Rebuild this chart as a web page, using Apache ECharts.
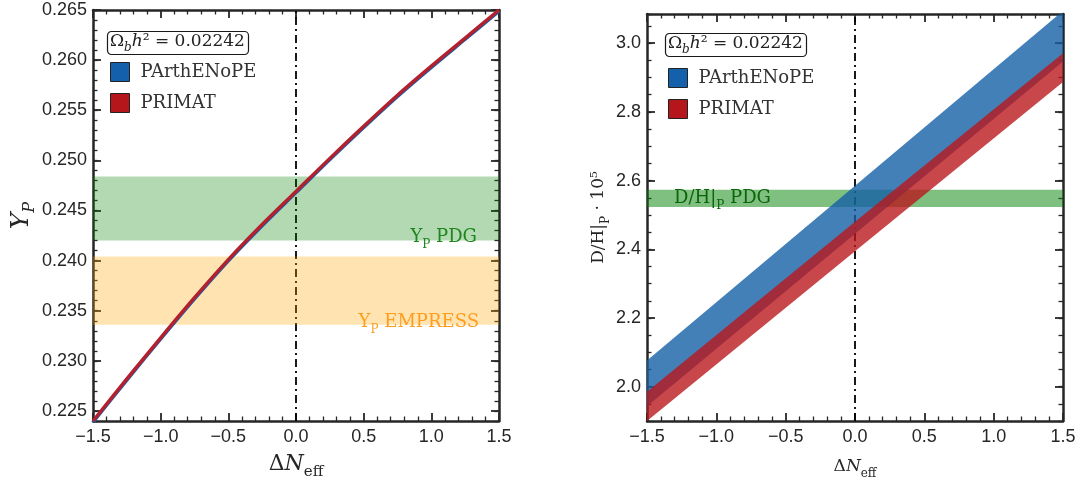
<!DOCTYPE html>
<html><head><meta charset="utf-8">
<script src="https://cdn.jsdelivr.net/npm/echarts@6/dist/echarts.min.js"></script>
<style>html,body{margin:0;padding:0;background:#fff}#c{width:1083px;height:485px}</style>
</head><body><div id="c"></div>
<script>
// ---- data ----
const xTicks = [-1.5, -1.0, -0.5, 0, 0.5, 1.0, 1.5];
const ypTicks = [0.225, 0.230, 0.235, 0.240, 0.245, 0.250, 0.255, 0.260, 0.265];
const dhTicks = [2.0, 2.2, 2.4, 2.6, 2.8, 3.0];
const dNeff = [-1.5, -1.25, -1.0, -0.75, -0.5, -0.25, 0, 0.25, 0.5, 0.75, 1.0, 1.25, 1.5];
const ypPRIMAT = [0.2240, 0.2282, 0.2323, 0.2363, 0.2401, 0.2436, 0.2469, 0.2502, 0.2534, 0.2565, 0.2594, 0.2622, 0.2650];
const ypPArthENoPE = [0.22388, 0.22808, 0.23218, 0.23618, 0.23998, 0.24348, 0.24678, 0.25008, 0.25328, 0.25638, 0.25928, 0.26208, 0.26488];
const ypPDG = [0.2420, 0.2484];
const ypEMPRESS = [0.2336, 0.2404];
const dhX = [-1.5, 0, 1.5];
const dhParthLow = [1.943, 2.445, 2.947];
const dhParthHigh = [2.076, 2.585, 3.094];
const dhPrimatLow = [1.900, 2.394, 2.887];
const dhPrimatHigh = [1.985, 2.480, 2.971];
const dhPDG = [2.523, 2.573];

// ---- styles ----
const AX = '#262626';
const SERIF = 'DejaVu Serif';
const SANS = 'Liberation Sans';
const BLUE = '#1560aa', RED = '#b5161b';

function pairs(xs, ys) { return xs.map((x, i) => [x, ys[i]]); }
const fmtX = v => (v < 0 ? '\u2212' : '') + Math.abs(v).toFixed(1);

function xAxesFor(g, nameSize, nameGap) {
  const base = {
    type: 'value', gridIndex: g, min: -1.5, max: 1.5, interval: 0.5,
    axisLine: { show: true, onZero: false, lineStyle: { color: AX, width: 2.5 } },
    axisTick: { show: true, inside: true, length: 8, lineStyle: { color: AX, width: 1.8 } },
    minorTick: { show: true, splitNumber: 5, length: 4.5, lineStyle: { color: AX, width: 1.3 } },
    splitLine: { show: false }, minorSplitLine: { show: false }
  };
  return [
    Object.assign({}, base, {
      position: 'bottom',
      axisLabel: { formatter: fmtX, fontFamily: SANS, fontSize: 18, color: AX, margin: 7 },
      name: '{d|\u0394}{i|N}{s|eff}', nameLocation: 'middle', nameGap: nameGap,
      nameTextStyle: { rich: {
        d: { fontFamily: SERIF, fontSize: nameSize, color: AX, lineHeight: nameSize + 2 },
        i: { fontFamily: SERIF, fontStyle: 'italic', fontSize: nameSize, color: AX, lineHeight: nameSize + 2 },
        s: { fontFamily: SERIF, fontSize: Math.round(nameSize * 0.68), color: AX, verticalAlign: 'bottom', lineHeight: nameSize + 9 }
      } }
    }),
    Object.assign({}, base, { position: 'top', axisLabel: { show: false } })
  ];
}

function yAxesFor(g, min, max, ticks, minorInt, dec, name, nameGap, rich) {
  const line = { show: true, onZero: false, lineStyle: { color: AX, width: 2.5 } };
  const major = (pos, withLabel) => ({
    type: 'value', gridIndex: g, min: min, max: max, position: pos,
    axisLine: line,
    axisTick: { show: true, inside: true, length: 8, customValues: ticks, lineStyle: { color: AX, width: 1.8 } },
    axisLabel: withLabel ? { show: true, customValues: ticks, formatter: v => v.toFixed(dec), fontFamily: SANS, fontSize: 18, color: AX, margin: 6 } : { show: false },
    splitLine: { show: false },
    name: withLabel ? name : '', nameLocation: 'middle', nameGap: nameGap, nameRotate: 90,
    nameTextStyle: { rich: rich }
  });
  const minor = pos => ({
    type: 'value', gridIndex: g, min: min, max: max, interval: minorInt, position: pos,
    axisLine: { show: false, onZero: false },
    axisTick: { show: true, inside: true, length: 4.5, lineStyle: { color: AX, width: 1.3 } },
    axisLabel: { show: false }, splitLine: { show: false }
  });
  return [major('left', true), minor('left'), major('right', false), minor('right')];
}

const ypRich = {
  i: { fontFamily: SERIF, fontStyle: 'italic', fontSize: 25, color: AX, lineHeight: 26 },
  s: { fontFamily: SERIF, fontStyle: 'italic', fontSize: 16, color: AX, verticalAlign: 'bottom', lineHeight: 34 }
};
const dhRich = {
  n: { fontFamily: SERIF, fontSize: 17, color: AX, lineHeight: 19 },
  s: { fontFamily: SERIF, fontSize: 12, color: AX, verticalAlign: 'bottom', lineHeight: 26 }
};

const dashLine = (xi, yi) => ({
  type: 'line', name: 'ref', xAxisIndex: xi, yAxisIndex: yi, data: [], silent: true, z: 1,
  markLine: { silent: true, z: 1, symbol: ['none', 'none'], animation: false,
    label: { show: false },
    lineStyle: { color: '#000', width: 1.8, type: [8, 4, 2, 4] },
    data: [{ xAxis: 0 }] }
});

const bandLabelRich = (color, size) => ({
  n: { fontFamily: SERIF, fontSize: size, color: color, lineHeight: size + 2 },
  s: { fontFamily: SERIF, fontSize: Math.round(size * 0.68), color: color, verticalAlign: 'bottom', lineHeight: size + 9 }
});

const boxTitle = (left, top) => ({
  text: '{o|\u03A9}{b|b}{h|h}{o|\u00B2 = 0.02242}',
  left: left, top: top, padding: [2, 4, 1, 3],
  borderColor: '#1a1a1a', borderWidth: 1.2, borderRadius: 4, backgroundColor: '#fff',
  textStyle: { fontWeight: 'normal', rich: {
    o: { fontFamily: SERIF, fontWeight: 'normal', fontSize: 17, color: '#222', lineHeight: 20 },
    h: { fontFamily: SERIF, fontWeight: 'normal', fontStyle: 'italic', fontSize: 17, color: '#222', lineHeight: 20 },
    b: { fontFamily: SERIF, fontWeight: 'normal', fontStyle: 'italic', fontSize: 12, color: '#222', verticalAlign: 'bottom', lineHeight: 25 }
  } }
});

const legendFor = (left, top) => ({
  left: left, top: top, orient: 'vertical', itemWidth: 19, itemHeight: 19, itemGap: 11,
  padding: 0, icon: 'rect', selectedMode: false,
  textStyle: { fontFamily: SERIF, fontSize: 18, color: '#333', padding: [0, 0, 0, 6] },
  data: [
    { name: 'PArthENoPE', icon: 'rect', itemStyle: { color: BLUE, borderColor: '#222', borderWidth: 1 } },
    { name: 'PRIMAT', icon: 'rect', itemStyle: { color: RED, borderColor: '#222', borderWidth: 1 } }
  ]
});

function bandSeries(name, low, high, color, z) {
  return {
    type: 'custom', name: name, xAxisIndex: 2, yAxisIndex: 4, z: z, clip: true, silent: true,
    data: dhX.map((x, i) => [x, low[i], high[i]]),
    encode: { x: 0, y: [1, 2] },
    itemStyle: { color: color },
    renderItem: (params, api) => {
      if (params.dataIndex !== 0) return null;
      const pts = [];
      for (let i = 0; i < dhX.length; i++) pts.push(api.coord([dhX[i], high[i]]));
      for (let i = dhX.length - 1; i >= 0; i--) pts.push(api.coord([dhX[i], low[i]]));
      return { type: 'polygon', shape: { points: pts }, style: { fill: color } };
    }
  };
}

const option = {
  animation: false,
  backgroundColor: '#fff',
  title: [boxTitle(107, 27), boxTitle(665, 29)],
  legend: [legendFor(110, 62), legendFor(668, 68)],
  grid: [
    { left: 93, top: 10, width: 406, height: 421 },
    { left: 647, top: 14, width: 416, height: 423.5 }
  ],
  xAxis: [].concat(xAxesFor(0, 22, 28), xAxesFor(1, 17, 33)),
  yAxis: [].concat(
    yAxesFor(0, 0.224, 0.265, ypTicks, 0.001, 3, '{i|Y}{s|P}', 55, ypRich),
    yAxesFor(1, 1.9, 3.085, dhTicks, 0.05, 1, '{n|D/H|}{s|P}{n| \u00B7 10\u2075}', 33, dhRich)
  ),
  series: [
    // ---- left panel ----
    dashLine(0, 0),
    {
      type: 'line', name: 'bandsYp', xAxisIndex: 0, yAxisIndex: 0, data: [], silent: true, z: 2,
      markArea: { silent: true, z: 2, animation: false, data: [
        [{ xAxis: -1.5, yAxis: ypPDG[0], itemStyle: { color: 'rgba(0,128,0,0.3)' },
           label: { show: true, position: 'insideBottomRight', offset: [-17, 15], formatter: '{n|Y}{s|P}{n| PDG}', rich: bandLabelRich('#1d861d', 18) } },
         { xAxis: 1.5, yAxis: ypPDG[1] }],
        [{ xAxis: -1.5, yAxis: ypEMPRESS[0], itemStyle: { color: 'rgba(255,165,0,0.3)' },
           label: { show: true, position: 'insideBottomRight', offset: [-15, 16], formatter: '{n|Y}{s|P}{n| EMPRESS}', rich: bandLabelRich('#ff9d1f', 18) } },
         { xAxis: 1.5, yAxis: ypEMPRESS[1] }]
      ] }
    },
    {
      type: 'line', name: 'PArthENoPE', xAxisIndex: 0, yAxisIndex: 0, z: 10,
      data: pairs(dNeff, ypPArthENoPE), smooth: 0.3, symbol: 'none',
      itemStyle: { color: BLUE }, lineStyle: { color: BLUE, width: 3.4 }
    },
    {
      type: 'line', name: 'PRIMAT', xAxisIndex: 0, yAxisIndex: 0, z: 11,
      data: pairs(dNeff, ypPRIMAT), smooth: 0.3, symbol: 'none',
      itemStyle: { color: RED }, lineStyle: { color: '#b3202e', width: 3.4 }
    },
    // ---- right panel ----
    dashLine(2, 4),
    {
      type: 'line', name: 'bandsDH', xAxisIndex: 2, yAxisIndex: 4, data: [], silent: true, z: 2,
      markArea: { silent: true, z: 2, animation: false, data: [
        [{ xAxis: -1.5, yAxis: dhPDG[0], itemStyle: { color: 'rgba(0,128,0,0.5)' },
           label: { show: true, position: 'insideLeft', offset: [22, 0], formatter: '{n|D/H|}{s|P}{n| PDG}', rich: bandLabelRich('#0b650b', 18) } },
         { xAxis: 1.5, yAxis: dhPDG[1] }]
      ] }
    },
    bandSeries('PArthENoPE', dhParthLow, dhParthHigh, 'rgba(21,96,166,0.8)', 10),
    bandSeries('PRIMAT', dhPrimatLow, dhPrimatHigh, 'rgba(185,22,27,0.79)', 11)
  ]
};

const chart = echarts.init(document.getElementById('c'), null, { renderer: 'canvas' });
chart.setOption(option);
</script>
</body></html>
